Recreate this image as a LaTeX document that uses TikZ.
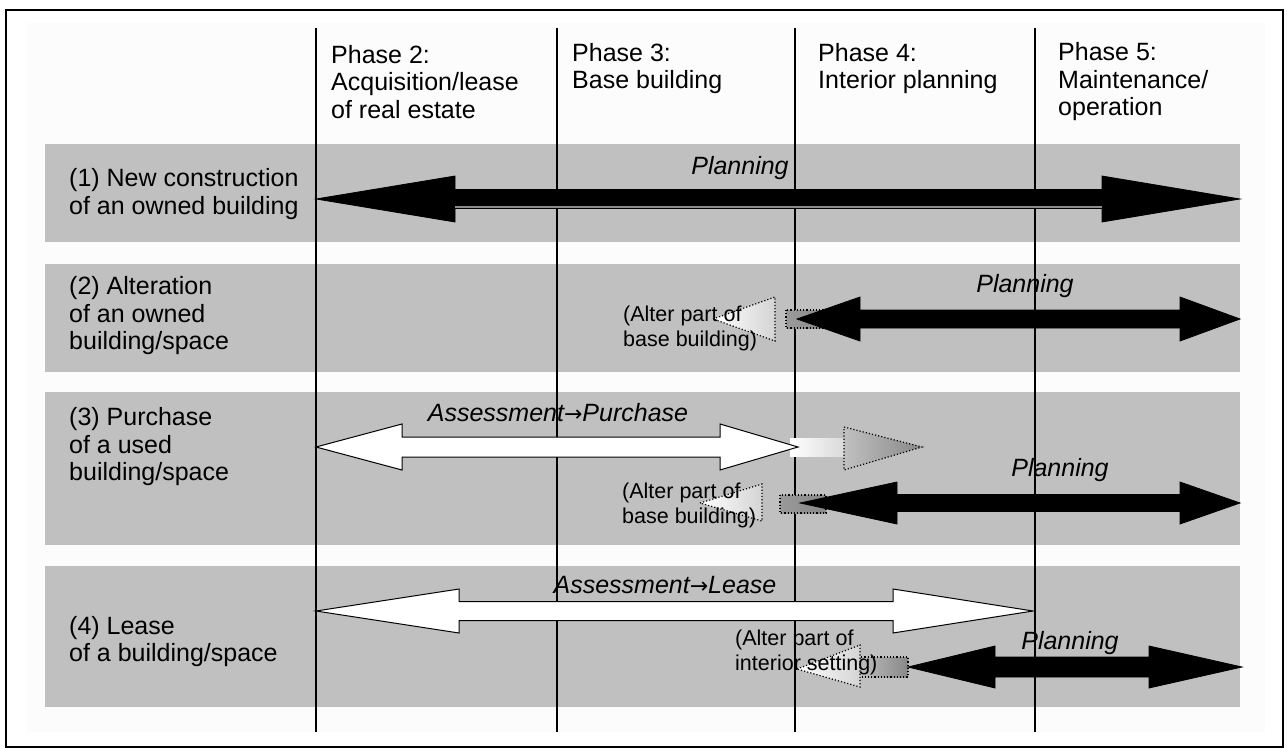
\documentclass[tikz,border=0pt]{standalone}
\usepackage{fontspec}
\setmainfont{Liberation Sans}
\newfontfamily\dvfont{DejaVu Sans}
\newcommand{\rarr}{{\dvfont\fontsize{22}{27}\selectfont →}}
\definecolor{rowgray}{HTML}{C0C0C0}
\definecolor{fadegray}{HTML}{D4D4D4}
\definecolor{midgray}{HTML}{9A9A9A}
\definecolor{darkgray}{HTML}{888888}
\newcommand{\dblarr}[8]{%
  \draw[#1] (#3,#2) -- (#4,#2-#7) -- (#4,#2-#8) -- (#5,#2-#8) -- (#5,#2-#7) -- (#6,#2)
    -- (#5,#2+#7) -- (#5,#2+#8) -- (#4,#2+#8) -- (#4,#2+#7) -- cycle;}
\tikzset{
  lbl/.style={font=\fontsize{25}{27.5}\selectfont, align=left, anchor=west, inner sep=0pt},
  small/.style={font=\fontsize{21.5}{25}\selectfont, align=left, anchor=west, inner sep=0pt},
  ital/.style={font=\fontsize{25}{27}\selectfont\itshape, inner sep=0pt},
  vline/.style={line width=1.4pt, black},
  blackarr/.style={fill=black, draw=black, line width=0.8pt},
  whitearr/.style={fill=white, draw=black, line width=1pt},
  fadeline/.style={dotted, line width=1.2pt, black},
}
\begin{document}
\begin{tikzpicture}[x=1pt,y=-1pt]
\useasboundingbox (0,0) rectangle (1287,749);
\fill[white] (0,0) rectangle (1287,749);
\fill[black!1] (27,23) rectangle (1265,732);
\draw[line width=1.5pt] (6,10) rectangle (1283,747);
% rows
\fill[rowgray] (45,144) rectangle (1240,242);
\fill[rowgray] (45,264) rectangle (1240,372);
\fill[rowgray] (45,392) rectangle (1240,545);
\fill[rowgray] (45,566) rectangle (1240,707);
% phase lines
\foreach \x in {316,557,795,1035} \draw[vline] (\x,28) -- (\x,732);
% headers
\node[lbl] (h2) at (331,82) {Phase 2:\\Acquisition/lease\\of real estate};
\node[lbl] (h3) at (572,68.5) {Phase 3:\\Base building};
\node[lbl] (h4) at (818,68.5) {Phase 4:\\Interior planning};
\node[lbl] (h5) at (1058,82) {Phase 5:\\Maintenance/\\operation};
% row labels
\node[lbl] (r1) at (69,194) {(1) New construction\\of an owned building};
\node[lbl] (r2) at (69,316) {(2) Alteration\\of an owned\\building/space};
\node[lbl] (r3) at (69,447) {(3) Purchase\\of a used\\building/space};
\node[lbl] (r4) at (69,641.5) {(4) Lease\\of a building/space};
% row 1
\dblarr{blackarr}{199}{316}{455}{1102}{1240}{23}{9.5}
\draw[black!45, line width=1.2pt] (455,207) -- (1102,207);
\node[ital] (p1) at (740,168) {Planning};
% row 2
\draw[fadeline, left color=midgray, right color=darkgray] (786,310) rectangle (830,328);
\draw[fadeline, left color=white, right color=fadegray] (713,319) -- (775,297) -- (775,341) -- cycle;
\dblarr{blackarr}{319}{797}{860}{1180}{1240}{22}{9}
\node[small] (a2) at (623,328.5) {(Alter part of\\base building)};
\node[ital] (p2) at (1025,286) {Planning};
% row 3
\fill[left color=white, right color=fadegray] (790,438) rectangle (852,456);
\draw[fadeline, left color=rowgray, right color=darkgray] (844,427) -- (922,447) -- (844,470) -- cycle;
\dblarr{whitearr}{447}{316}{402}{720}{798}{23}{10}
\node[ital] (ap) at (558,413) {Assessment\rarr Purchase};
\draw[fadeline, left color=midgray, right color=darkgray] (780,495) rectangle (826,513);
\draw[fadeline, left color=white, right color=fadegray] (700,503) -- (762,484) -- (762,521) -- cycle;
\dblarr{blackarr}{503}{800}{897}{1180}{1240}{21}{8.5}
\node[small] (a3) at (622,505) {(Alter part of\\base building)};
\node[ital] (p3) at (1060,470) {Planning};
% row 4
\dblarr{whitearr}{611}{316}{459}{893}{1033}{22}{9.5}
\node[ital] (al) at (665,585) {Assessment\rarr Lease};
\draw[fadeline, left color=fadegray, right color=darkgray] (840,657) rectangle (908,677);
\draw[fadeline, left color=white, right color=fadegray] (797,669) -- (860,645) -- (860,687) -- cycle;
\dblarr{blackarr}{667}{908}{995}{1149}{1242}{21}{10}
\node[small] (a4) at (735,652.5) {(Alter part of\\interior setting)};
\node[ital] (p4) at (1070,643) {Planning};
\end{tikzpicture}
\end{document}
